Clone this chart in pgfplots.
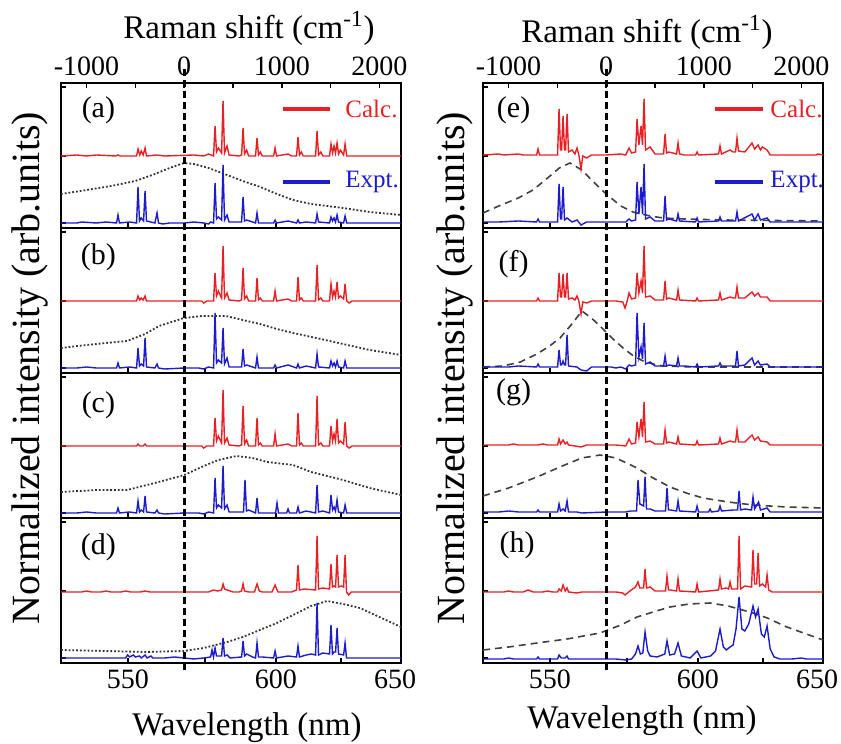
\documentclass[border=0pt]{standalone}
\usepackage{fontspec}
\setmainfont{Liberation Serif}
\usepackage{pgfplots}
\pgfplotsset{compat=1.18}
\definecolor{calcred}{RGB}{232,32,36}
\definecolor{exptblue}{RGB}{28,28,205}
\newcommand\fs[1]{\fontsize{#1}{#1}\selectfont}

\pgfplotsset{
  panel/.style={anchor=south west, width=170bp, height=72.5bp, scale only axis,
    xmin=-1262, xmax=2221, ymin=0, ymax=145,
    xtick={-576,215,939,1606}, xticklabels={},
    ytick={5,72,141}, yticklabels={},
    xtick pos=bottom, ytick pos=left, tick align=inside,
    major tick length=2.5bp,
    axis line style={line width=0.9bp},
    every tick/.style={black, line width=0.8bp}},
  bottompanel/.style={panel, xtick={-576,215,939,1606,2221},
    xticklabels={550,,600,,\hspace*{-6bp}650},
    xticklabel style={font=\fs{14bp}}},
  toppanel/.style={anchor=south west, width=170bp, height=72.5bp, scale only axis,
    xmin=-1262, xmax=2221, ymin=0, ymax=145,
    axis x line*=top, axis y line=none, tick align=inside,
    major tick length=2.5bp,
    axis line style={line width=0.9bp},
    every tick/.style={black, line width=0.8bp},
    xtick={-1000,-500,0,500,1000,1500,2000},
    xticklabels={-1000,,0,,1000,,2000},
    xticklabel style={font=\fs{14bp}}},
  calc/.style={calcred, line width=0.7bp, y filter/.expression={y+#1}},
  expt/.style={exptblue, line width=0.7bp, y filter/.expression={y+#1}},
  envdot/.style={black!80, line width=0.9bp, densely dotted},
  envdash/.style={black!75, line width=0.8bp, dash pattern=on 3.5bp off 2.5bp},
  zeroline/.style={black, line width=1.6bp, dash pattern=on 3.5bp off 2bp},
}

\begin{document}
\begin{tikzpicture}
\path[use as bounding box] (0,0) rectangle (420.5bp,372bp);

% ---------------- left column ----------------
\begin{axis}[toppanel, at={(30.5bp,258bp)}]
\addplot[draw=none] coordinates {(0,0)};
\end{axis}

\begin{axis}[panel, at={(30.5bp,258bp)}]
\addplot[envdot] coordinates {(-1262,34) (-1000,38) (-750,42) (-500,47) (-300,54) (-150,60) (0,65) (100,64) (250,60) (440,53) (600,47) (780,41) (950,34) (1115,28) (1300,24) (1627,20) (1900,16) (2221,13)};
\addplot[calc=72] coordinates {(-1262,0) (-1100,1) (-1000,0) (-900,1) (-700,0) (-678,1) (-655,0) (-488,0) (-473,7) (-455,1) (-440,5) (-420,1) (-401,8) (-386,0) (-278,1) (-200,0) (100,1) (200,0) (250,2) (301,0) (316,30) (331,4) (350,8) (383,3) (398,55) (413,3) (439,10) (460,1) (560,0) (588,1) (603,28) (618,2) (640,6) (660,0) (731,0) (746,18) (761,1) (780,4) (800,0) (916,0) (931,8) (946,0) (1064,2) (1100,0) (1151,0) (1166,19) (1181,1) (1200,4) (1220,0) (1346,0) (1361,25) (1376,1) (1400,4) (1420,0) (1489,0) (1504,12) (1520,3) (1535,10) (1550,3) (1566,13) (1581,2) (1600,6) (1633,1) (1648,12) (1665,0) (2221,0)};
\addplot[expt=5] coordinates {(-1262,0) (-1100,0) (-1050,1) (-900,0) (-800,1) (-693,0) (-678,8) (-663,0) (-560,1) (-488,0) (-473,36) (-458,2) (-440,5) (-416,2) (-401,32) (-386,2) (-300,0) (-278,10) (-263,0) (-220,-1) (-150,0) (0,0) (100,1) (200,0) (250,-1) (270,1) (301,0) (316,40) (331,4) (350,6) (383,3) (398,58) (413,3) (439,8) (460,1) (588,1) (603,26) (618,2) (640,3) (731,0) (746,10) (761,0) (916,0) (931,3) (946,0) (1064,2) (1151,0) (1166,3) (1181,0) (1250,1) (1346,0) (1361,9) (1376,1) (1489,0) (1504,6) (1520,2) (1535,5) (1550,1) (1566,8) (1581,1) (1633,0) (1648,7) (1665,0) (2221,0)};
\node[font=\fs{15bp}] at (rel axis cs:0.11,0.81) {(a)};
\draw[calcred, line width=2bp] (axis cs:1012,119) -- (axis cs:1494,119);
\node[anchor=west, inner sep=0pt, text=calcred, font=\fs{12.5bp}] at (axis cs:1648,119) {Calc.};
\draw[exptblue, line width=2bp] (axis cs:1012,46) -- (axis cs:1494,46);
\node[anchor=west, inner sep=0pt, text=exptblue, font=\fs{12.5bp}] at (axis cs:1648,46) {Expt.};
\end{axis}

\begin{axis}[panel, at={(30.5bp,185.5bp)}]
\addplot[envdot] coordinates {(-1262,25) (-1000,28) (-800,30) (-586,32) (-400,39) (-258,47) (0,55) (180,57) (430,57) (600,53) (775,49) (950,44) (1115,40) (1400,34) (1627,29) (1900,23) (2221,18)};
\addplot[calc=72] coordinates {(-1262,0) (-1000,0) (-600,0) (-488,0) (-473,5) (-455,1) (-440,3) (-420,1) (-401,5) (-386,0) (0,0) (180,0) (200,-2) (230,0) (301,0) (316,28) (331,5) (350,10) (383,3) (398,55) (413,3) (439,8) (460,1) (560,0) (588,1) (603,33) (618,2) (640,5) (660,0) (731,0) (746,23) (761,1) (780,3) (800,0) (916,0) (931,10) (946,0) (1064,2) (1100,0) (1151,0) (1166,24) (1181,1) (1200,3) (1220,0) (1346,0) (1361,36) (1376,1) (1400,3) (1420,0) (1489,0) (1504,17) (1520,4) (1535,10) (1550,4) (1566,19) (1581,3) (1600,5) (1633,2) (1648,17) (1665,0) (1690,-2) (1720,0) (2221,0)};
\addplot[expt=5] coordinates {(-1262,0) (-1100,0) (-1000,1) (-900,0) (-693,0) (-678,5) (-663,0) (-560,1) (-488,0) (-473,20) (-458,2) (-440,4) (-416,2) (-401,30) (-386,1) (-300,0) (-278,4) (-263,0) (-200,-1) (0,0) (150,0) (200,-1) (250,1) (301,0) (316,55) (331,5) (350,8) (383,5) (398,40) (413,4) (439,10) (460,1) (588,1) (603,19) (618,2) (640,3) (731,0) (746,11) (761,0) (916,0) (931,3) (946,0) (1064,3) (1151,0) (1166,4) (1181,0) (1250,2) (1346,0) (1361,14) (1376,1) (1489,0) (1504,7) (1520,2) (1535,5) (1550,1) (1566,7) (1581,1) (1633,0) (1648,7) (1665,0) (2221,0)};
\node[font=\fs{15bp}] at (rel axis cs:0.11,0.80) {(b)};
\end{axis}

\begin{axis}[panel, at={(30.5bp,113bp)}]
\addplot[envdot] coordinates {(-1262,26) (-900,28) (-586,28) (-300,35) (0,43) (200,52) (350,58) (535,62) (700,60) (850,56) (1115,53) (1300,46) (1627,38) (1900,30) (2221,23)};
\addplot[calc=72] coordinates {(-1262,0) (-800,0) (-488,0) (-473,2) (-455,0) (-420,0) (-401,2) (-386,0) (0,0) (180,0) (200,-2) (230,0) (301,0) (316,28) (331,5) (350,10) (383,3) (398,56) (413,3) (439,8) (460,1) (560,0) (588,1) (603,40) (618,2) (640,6) (660,0) (731,0) (746,28) (761,1) (780,3) (800,0) (916,0) (931,12) (946,0) (1064,2) (1100,0) (1151,0) (1166,33) (1181,1) (1200,3) (1220,0) (1346,0) (1361,50) (1376,1) (1400,3) (1420,0) (1489,0) (1504,20) (1520,5) (1535,12) (1550,5) (1566,27) (1581,3) (1600,5) (1633,2) (1648,24) (1665,0) (1690,-2) (1720,0) (2221,0)};
\addplot[expt=5] coordinates {(-1262,0) (-1100,0) (-1000,1) (-900,0) (-693,0) (-678,5) (-663,0) (-560,1) (-488,0) (-473,12) (-458,1) (-440,3) (-416,1) (-401,17) (-386,1) (-300,0) (-278,3) (-263,0) (-200,-1) (0,0) (150,0) (200,-1) (250,1) (301,0) (316,35) (331,5) (350,8) (383,5) (398,47) (413,4) (439,8) (460,1) (608,1) (623,33) (638,2) (660,3) (731,0) (746,15) (761,0) (936,0) (951,10) (966,0) (1049,0) (1064,4) (1079,0) (1151,0) (1166,6) (1181,0) (1250,2) (1346,0) (1361,28) (1376,1) (1420,2) (1489,0) (1504,18) (1520,3) (1535,6) (1550,2) (1566,13) (1581,1) (1633,0) (1648,8) (1665,0) (2221,0)};
\node[font=\fs{15bp}] at (rel axis cs:0.11,0.78) {(c)};
\end{axis}

\begin{axis}[bottompanel, at={(30.5bp,40.5bp)}, clip=false]
\addplot[envdot] coordinates {(-1262,13) (-800,12) (-400,11) (0,12) (200,15) (440,21) (600,26) (775,33) (950,40) (1115,48) (1300,57) (1463,62) (1627,59) (1801,55) (2000,46) (2221,36)};
\addplot[calc=71] coordinates {(-1262,0) (-1050,0) (-1000,1) (-950,0) (-850,0) (-800,1) (-750,0) (-650,0) (-600,1) (-550,0) (-450,0) (-400,1) (-350,0) (0,0) (250,0) (300,2) (340,1) (383,2) (398,8) (413,3) (440,2) (500,0) (560,0) (588,1) (603,8) (618,1) (660,0) (720,0) (746,8) (770,1) (800,0) (900,0) (931,7) (960,0) (1100,0) (1151,2) (1166,27) (1181,2) (1230,3) (1346,2) (1361,56) (1376,3) (1420,4) (1489,3) (1504,28) (1519,5) (1535,6) (1551,5) (1566,37) (1581,5) (1610,6) (1633,5) (1648,37) (1663,0) (1685,-3) (1710,0) (2221,0)};
\addplot[expt=5] coordinates {(-1262,0) (-700,0) (-600,0) (-580,3) (-560,1) (-520,3) (-500,1) (-460,2) (-440,0) (-400,3) (-380,0) (-340,2) (-320,0) (-200,0) (-100,1) (0,0) (100,-1) (200,0) (270,1) (285,8) (300,1) (316,10) (331,2) (383,2) (398,20) (413,2) (440,3) (470,0) (588,1) (603,17) (618,2) (640,4) (700,1) (731,0) (746,15) (761,1) (800,1) (916,0) (931,7) (946,0) (1064,2) (1151,1) (1166,12) (1181,1) (1250,3) (1300,4) (1346,3) (1361,55) (1376,3) (1420,5) (1489,4) (1504,33) (1519,4) (1535,6) (1551,6) (1566,30) (1581,4) (1633,3) (1648,15) (1663,0) (2221,0)};
\node[font=\fs{15bp}] at (rel axis cs:0.11,0.80) {(d)};
\addplot[zeroline] coordinates {(0,-7) (0,595)};
\end{axis}

% ---------------- right column ----------------
\begin{axis}[toppanel, at={(241.5bp,258bp)}]
\addplot[draw=none] coordinates {(0,0)};
\end{axis}

\begin{axis}[panel, at={(241.5bp,258bp)}]
\addplot[envdash] coordinates {(-1262,15) (-1100,22) (-900,30) (-750,38) (-600,50) (-480,60) (-371,65) (-250,58) (-150,48) (0,34) (150,22) (275,16) (450,12) (582,10) (800,9) (1200,8) (2221,7)};
\addplot[calc=73] coordinates {(-1262,0) (-1100,1) (-1050,0) (-900,1) (-850,0) (-713,0) (-698,6) (-683,0) (-600,0) (-498,0) (-483,46) (-468,5) (-457,5) (-442,39) (-427,5) (-416,5) (-401,41) (-386,3) (-350,5) (-320,1) (-299,7) (-280,0) (-258,-14) (-240,-1) (-200,-3) (-150,0) (0,0) (150,1) (200,0) (234,7) (260,2) (301,3) (316,36) (335,10) (357,29) (372,10) (388,56) (403,5) (450,8) (500,1) (588,1) (603,21) (618,2) (640,3) (721,1) (736,12) (751,1) (800,0) (916,0) (931,3) (946,0) (1151,1) (1166,9) (1181,1) (1269,5) (1300,3) (1325,3) (1340,17) (1355,4) (1420,3) (1494,12) (1520,6) (1556,10) (1580,5) (1600,8) (1648,5) (1680,0) (2150,0) (2170,1) (2221,0)};
\addplot[expt=6] coordinates {(-1262,0) (-1100,0) (-900,1) (-713,0) (-698,3) (-683,0) (-498,0) (-483,38) (-468,3) (-457,3) (-442,35) (-427,2) (-401,4) (-350,0) (-299,2) (-258,-3) (-200,0) (0,0) (200,0) (234,3) (260,1) (301,2) (316,40) (335,8) (357,35) (372,8) (388,58) (403,3) (450,5) (500,1) (588,1) (603,26) (618,2) (640,3) (721,1) (736,8) (751,1) (916,0) (931,4) (946,0) (1151,1) (1166,5) (1181,1) (1325,1) (1340,10) (1355,1) (1494,8) (1520,2) (1556,8) (1580,2) (1648,4) (1680,0) (2221,0)};
\node[font=\fs{15bp}] at (rel axis cs:0.09,0.81) {(e)};
\draw[calcred, line width=2bp] (axis cs:1115,119) -- (axis cs:1607,119);
\node[anchor=west, inner sep=0pt, text=calcred, font=\fs{12.5bp}] at (axis cs:1679,119) {Calc.};
\draw[exptblue, line width=2bp] (axis cs:1115,46) -- (axis cs:1607,46);
\node[anchor=west, inner sep=0pt, text=exptblue, font=\fs{12.5bp}] at (axis cs:1679,46) {Expt.};
\end{axis}

\begin{axis}[panel, at={(241.5bp,185.5bp)}]
\addplot[envdash] coordinates {(-1262,6) (-1057,7) (-880,11) (-709,19) (-580,27) (-473,35) (-360,48) (-248,62) (-140,54) (-32,44) (70,34) (173,25) (280,17) (378,12) (480,9) (582,7) (900,6) (2221,6)};
\addplot[calc=72] coordinates {(-1262,0) (-900,0) (-713,0) (-698,3) (-683,0) (-498,0) (-483,28) (-468,4) (-457,4) (-442,27) (-427,4) (-416,4) (-401,28) (-386,2) (-350,3) (-320,1) (-299,5) (-280,0) (-258,-13) (-240,-1) (-200,-2) (-150,0) (100,0) (170,-1) (193,-7) (215,0) (234,8) (260,2) (301,3) (316,28) (335,8) (357,20) (372,8) (388,55) (403,4) (450,5) (500,1) (588,1) (603,20) (618,2) (640,3) (721,1) (736,11) (751,1) (916,0) (931,3) (946,0) (1151,1) (1166,8) (1181,1) (1269,4) (1300,3) (1325,3) (1340,14) (1355,3) (1420,3) (1494,9) (1520,5) (1556,8) (1580,4) (1648,4) (1680,0) (2221,0)};
\addplot[expt=6] coordinates {(-1262,0) (-1000,0) (-900,1) (-713,0) (-698,3) (-683,0) (-498,0) (-483,17) (-468,2) (-457,2) (-442,6) (-427,2) (-416,2) (-401,32) (-386,1) (-300,0) (-258,-3) (-200,-4) (-150,0) (50,0) (100,-1) (150,0) (200,-2) (234,2) (260,1) (301,2) (316,54) (335,10) (357,20) (372,8) (388,44) (403,3) (450,5) (500,1) (588,1) (603,11) (618,1) (640,2) (721,1) (736,9) (751,1) (800,1) (916,0) (931,3) (946,0) (1151,1) (1166,4) (1181,1) (1325,1) (1340,16) (1355,1) (1420,2) (1494,9) (1520,2) (1556,6) (1580,2) (1648,3) (1680,0) (2221,0)};
\node[font=\fs{15bp}] at (rel axis cs:0.09,0.75) {(f)};
\end{axis}

\begin{axis}[panel, at={(241.5bp,113bp)}]
\addplot[envdash] coordinates {(-1262,22) (-1000,30) (-709,41) (-450,52) (-250,60) (-63,63) (100,60) (316,50) (480,40) (654,31) (820,25) (992,20) (1250,16) (1504,13) (1850,11) (2221,10)};
\addplot[calc=73] coordinates {(-1262,0) (-1000,0) (-950,1) (-900,0) (-700,0) (-650,1) (-600,0) (-498,0) (-483,6) (-468,1) (-442,5) (-420,1) (-401,3) (-386,0) (-258,-2) (-200,0) (100,0) (200,-1) (234,6) (260,1) (301,2) (316,23) (335,8) (357,26) (372,8) (388,43) (403,3) (450,4) (500,1) (588,1) (603,15) (618,2) (640,3) (721,1) (736,8) (751,1) (916,0) (931,4) (946,0) (1151,1) (1166,7) (1181,1) (1269,4) (1300,3) (1325,3) (1340,15) (1355,3) (1420,3) (1494,10) (1520,5) (1556,8) (1580,4) (1648,3) (1680,0) (2221,0)};
\addplot[expt=6] coordinates {(-1262,0) (-1100,0) (-1000,1) (-900,0) (-713,0) (-698,2) (-683,0) (-498,0) (-483,8) (-468,1) (-442,3) (-420,1) (-401,11) (-386,0) (-300,0) (-250,-1) (0,0) (200,0) (250,1) (311,1) (326,32) (345,8) (383,6) (398,35) (413,3) (450,3) (500,1) (608,1) (623,24) (638,2) (660,2) (721,1) (736,11) (751,1) (916,0) (931,6) (946,0) (1049,0) (1064,3) (1079,0) (1151,1) (1166,6) (1181,1) (1300,2) (1346,2) (1361,21) (1376,2) (1420,3) (1489,2) (1504,15) (1520,3) (1561,10) (1580,2) (1648,4) (1680,0) (2221,0)};
\node[font=\fs{15bp}] at (rel axis cs:0.09,0.87) {(g)};
\end{axis}

\begin{axis}[bottompanel, at={(241.5bp,40.5bp)}, clip=false]
\addplot[envdash] coordinates {(-1262,13) (-1000,16) (-709,20) (-400,24) (-63,30) (150,38) (316,46) (480,51) (654,56) (850,59) (1064,60) (1250,57) (1504,50) (1650,45) (1850,36) (2050,29) (2221,23)};
\addplot[calc=71] coordinates {(-1262,0) (-1050,0) (-1000,1) (-950,0) (-850,0) (-800,2) (-750,0) (-650,0) (-600,1) (-550,0) (-498,0) (-483,3) (-460,1) (-442,7) (-420,1) (-401,4) (-386,0) (-300,-1) (-250,0) (100,0) (170,-1) (193,-3) (230,0) (300,5) (326,10) (345,4) (383,4) (398,23) (413,4) (450,5) (500,1) (608,1) (623,16) (638,2) (660,2) (721,1) (736,13) (751,1) (916,0) (931,8) (946,0) (1151,2) (1166,13) (1181,3) (1230,4) (1254,3) (1269,10) (1284,3) (1346,3) (1361,56) (1376,3) (1420,6) (1489,5) (1504,42) (1520,8) (1541,8) (1556,39) (1571,6) (1600,8) (1633,5) (1648,17) (1665,2) (1700,0) (2221,0)};
\addplot[expt=4] coordinates {(-1262,0) (-1050,0) (-1000,1) (-950,0) (-713,0) (-698,2) (-683,0) (-498,0) (-483,4) (-460,1) (-420,1) (-401,3) (-386,0) (-200,0) (100,0) (200,-1) (260,0) (300,5) (326,13) (350,5) (375,6) (398,27) (425,8) (450,3) (520,2) (600,5) (623,18) (650,4) (700,5) (736,16) (770,3) (860,1) (931,8) (970,1) (1070,3) (1120,8) (1166,30) (1200,12) (1230,9) (1269,12) (1300,14) (1330,30) (1361,62) (1390,30) (1420,28) (1460,35) (1504,53) (1530,42) (1556,50) (1590,25) (1620,22) (1648,33) (1680,10) (1720,2) (1780,0) (1900,0) (2000,1) (2050,0) (2221,0)};
\node[font=\fs{15bp}] at (rel axis cs:0.1,0.81) {(h)};
\addplot[zeroline] coordinates {(0,-7) (0,595)};
\end{axis}

% ---------------- labels ----------------
\node[anchor=base, font=\fs{16.5bp}] at (124.5bp,352.5bp) {Raman shift (cm\textsuperscript{-1})};
\node[anchor=base, font=\fs{16.5bp}] at (323.5bp,350.5bp) {Raman shift (cm\textsuperscript{-1})};
\node[anchor=base, font=\fs{16.5bp}] at (123.5bp,4.5bp) {Wavelength (nm)};
\node[anchor=base, font=\fs{16.5bp}] at (321bp,8bp) {Wavelength (nm)};
\node[rotate=90, font=\fs{20bp}] at (15bp,188bp) {Normalized intensity (arb.units)};
\node[rotate=90, font=\fs{20bp}] at (227.5bp,188bp) {Normalized intensity (arb.units)};
\end{tikzpicture}
\end{document}
